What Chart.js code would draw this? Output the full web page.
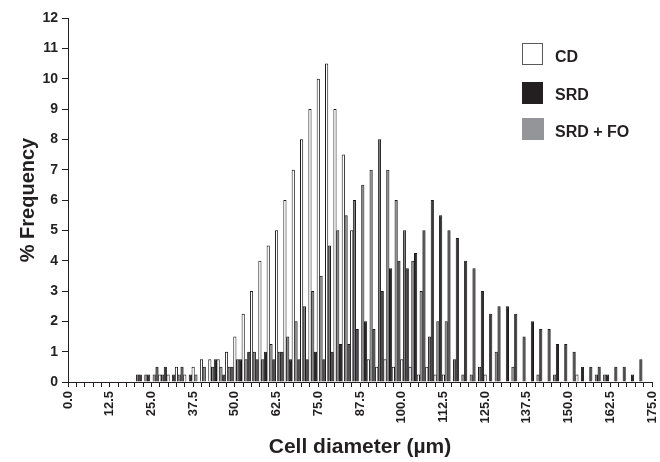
<!DOCTYPE html>
<html>
<head>
<meta charset="utf-8">
<script src="https://cdn.jsdelivr.net/npm/chart.js@4.4.0/dist/chart.umd.min.js"></script>
<style>
  body { margin: 0; background: #fff; }
  #contenedor { position: relative; width: 660px; height: 462px; }
  #leyenda { position: absolute; left: 0; top: 0; font-family: "Liberation Sans", Arial, sans-serif; font-weight: bold; font-size: 16px; line-height: 16px; color: #231f20; }
  .caja { position: absolute; left: 522px; box-sizing: border-box; }
  .texto { position: absolute; left: 555px; white-space: nowrap; }
</style>
</head>
<body>
<div id="contenedor">
  <canvas id="grafico" width="660" height="462"></canvas>
  <div id="leyenda">
    <span class="caja" style="top:43px;width:21px;height:22px;background:#fff;border:1px solid #58595b"></span>
    <span class="texto" style="top:49px">CD</span>
    <span class="caja" style="top:82px;width:21px;height:22px;background:#231f20"></span>
    <span class="texto" style="top:87px">SRD</span>
    <span class="caja" style="top:118px;width:22px;height:22px;background:#939598"></span>
    <span class="texto" style="top:124px">SRD + FO</span>
  </div>
</div>
<script>
/* diametro celular (um), una categoria cada 2.5 */
const diametros = [0, 2.5, 5, 7.5, 10, 12.5, 15, 17.5, 20, 22.5, 25, 27.5, 30, 32.5, 35, 37.5,
  40, 42.5, 45, 47.5, 50, 52.5, 55, 57.5, 60, 62.5, 65, 67.5, 70, 72.5, 75, 77.5, 80, 82.5,
  85, 87.5, 90, 92.5, 95, 97.5, 100, 102.5, 105, 107.5, 110, 112.5, 115, 117.5, 120, 122.5,
  125, 127.5, 130, 132.5, 135, 137.5, 140, 142.5, 145, 147.5, 150, 152.5, 155, 157.5, 160,
  162.5, 165, 167.5, 170, 172.5, 175]

/* % frecuencia por grupo */
const cd = [0, 0, 0, 0, 0, 0, 0, 0, 0, 0, 0, 0.25, 0.25, 0.5, 0.25, 0.5,
  0.75, 0.75, 0.75, 1, 1.5, 2.25, 3, 4, 4.5, 5, 6, 7, 8, 9, 10, 10.5, 9, 7.5,
  5, 0, 0.75, 0.5, 0.75, 0.5, 0.75, 0.5, 0.25, 0.5, 0.25, 0.25, 0, 0, 0, 0,
  0.25, 0, 0, 0, 0, 0, 0, 0, 0, 0, 0, 0.25, 0, 0, 0,
  0, 0, 0, 0, 0, 0]

const srd = [0, 0, 0, 0, 0, 0, 0, 0, 0, 0.25, 0.25, 0.5, 0.5, 0.25, 0.5, 0.25,
  0, 0, 0.75, 0.25, 0.5, 0.75, 1, 0.75, 1, 0.75, 1, 0.75, 0.75, 0.75, 1, 0.75, 1, 1.25,
  1.25, 1.75, 2, 1.75, 3, 3.75, 4, 3.75, 4.25, 5, 6, 5.5, 5, 4.75, 4, 3.75,
  3, 2.25, 2.5, 2.5, 2.25, 1.5, 2, 1.75, 1.75, 1.25, 1.25, 1, 0.5, 0.5, 0.5,
  0.25, 0.5, 0.5, 0.25, 0.75, 0]

const srdFo = [0, 0, 0, 0, 0, 0, 0, 0, 0.25, 0.25, 0.25, 0.25, 0, 0.25, 0, 0.25,
  0.5, 0.5, 0.5, 0.5, 0.75, 0.75, 1, 0.75, 1.25, 1, 1.5, 2, 2.5, 3, 3.5, 4.5, 5, 5.5,
  6, 6.5, 7, 8, 7, 6, 5, 4, 3, 1.5, 2, 2, 0.75, 0.25, 0.25, 0.5,
  0, 1, 0, 0.5, 0, 0, 0.25, 0, 0.25, 0, 0, 0, 0, 0.25, 0.25,
  0, 0, 0, 0, 0, 0]

const colorEjes = '#231f20'
const fuente = '"Liberation Sans", Arial, sans-serif'

/* las barras en cero no se dibujan */
const sinCeros = (serie) => serie.map((v) => v === 0 ? null : v)

const config = {
  type: 'bar',
  data: {
    labels: diametros,
    datasets: [
      { label: 'SRD', data: sinCeros(srd), backgroundColor: '#2b2728', borderColor: '#1a1718', borderWidth: 1 },
      { label: 'CD', data: sinCeros(cd), backgroundColor: '#ffffff', borderColor: '#1a1718', borderWidth: 1 },
      { label: 'SRD + FO', data: sinCeros(srdFo), backgroundColor: '#7d7f82', borderColor: '#1a1718', borderWidth: 1 }
    ]
  },
  options: {
    responsive: false,
    animation: false,
    layout: { padding: { left: 14, top: 18, right: 8, bottom: 2 } },
    datasets: { bar: { categoryPercentage: 1, barPercentage: 1.15 } },
    plugins: { legend: { display: false }, tooltip: { enabled: false } },
    scales: {
      x: {
        offset: false,
        grid: { offset: false, drawOnChartArea: false, tickLength: 5, color: colorEjes },
        border: { color: colorEjes },
        ticks: {
          autoSkip: false,
          minRotation: 90,
          maxRotation: 90,
          padding: 4,
          color: colorEjes,
          font: { family: fuente, weight: 'bold', size: 13 },
          callback: (value, index) => index % 5 === 0 ? diametros[index].toFixed(1) : ''
        },
        title: {
          display: true,
          text: 'Cell diameter (µm)',
          color: colorEjes,
          padding: 0,
          font: { family: fuente, weight: 'bold', size: 21 }
        },
        /* el ultimo rotulo no necesita margen extra a la derecha */
        afterFit: (scale) => {
          scale.height = 78
          scale.paddingLeft = 0
          scale.paddingRight = 0
        }
      },
      y: {
        min: 0,
        max: 12,
        grid: { drawOnChartArea: false, tickLength: 6, color: colorEjes },
        border: { color: colorEjes },
        ticks: {
          stepSize: 1,
          padding: 4,
          color: colorEjes,
          font: { family: fuente, weight: 'bold', size: 14 }
        },
        title: {
          display: true,
          text: '% Frequency',
          color: colorEjes,
          padding: { top: 2, bottom: 0 },
          font: { family: fuente, weight: 'bold', size: 20 }
        },
        afterFit: (scale) => { scale.width = 54 }
      }
    }
  }
}

new Chart(document.getElementById('grafico'), config)
</script>
</body>
</html>
